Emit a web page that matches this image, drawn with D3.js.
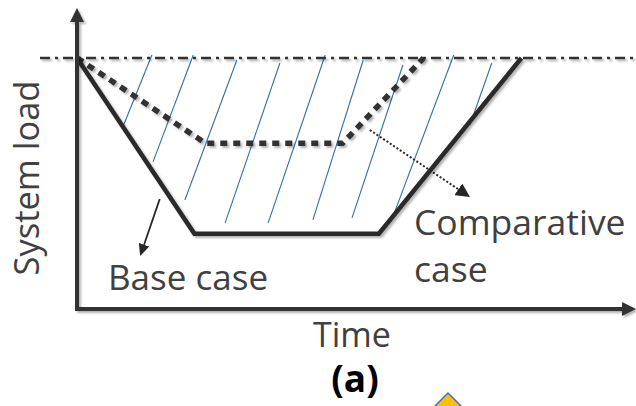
<!DOCTYPE html>
<html>
<head>
<meta charset="utf-8">
<script src="https://cdn.jsdelivr.net/npm/d3@7"></script>
<style>
  body { margin: 0; background: #fff; }
  text { font-family: "Open Sans", sans-serif; }
</style>
</head>
<body>
<div id="chart"></div>
<script>
// time and load are both in % (load 100 = full load level)
const baseTime = [0, 21, 54, 79.5];
const baseLoad = [100, 30, 30, 100];
const compTime = [0, 23, 47.5, 62];
const compLoad = [100, 66, 66, 100];
const fullLoad = 100;

// hand drawn hatch strokes, top end and bottom end
const hatchTopTime = [13.4, 20.8, 28.6, 36.3, 44.4, 51.2, 58.3, 67.4, 74.2];
const hatchTopLoad = [101.2, 101.2, 99.2, 98, 101.2, 99.2, 97.2, 101.2, 98];
const hatchBotTime = [8.2, 13.6, 19.3, 26.5, 34.2, 42.2, 49.2, 56.5, 70.3];
const hatchBotLoad = [72.5, 58.6, 43.4, 34.3, 34.3, 35.5, 36.3, 36.7, 73.3];

// pointer arrows: [fromTime, fromLoad, toTime, toLoad]
const basePointer = [14.8, 43.8, 11.3, 21.1];
const compPointer = [52.4, 71.3, 70.3, 44.6];

const width = 636, height = 406;

let svg = d3.select('#chart')
            .append('svg')
            .attr('width', width)
            .attr('height', height);

let x = d3.scaleLinear().domain([0, 100]).range([77, 636]);
let y = d3.scaleLinear().domain([0, 100]).range([309, 58]);

//defs: shadow + arrow heads
let defs = svg.append('defs');
let f = defs.append('filter').attr('id', 'shadow')
            .attr('filterUnits', 'userSpaceOnUse')
            .attr('x', 0).attr('y', 0).attr('width', width).attr('height', height);
f.append('feDropShadow')
  .attr('dx', 2).attr('dy', 2)
  .attr('stdDeviation', 1.3)
  .attr('flood-color', '#000')
  .attr('flood-opacity', 0.3);

function marker(id, len, half, col) {
  defs.append('marker')
      .attr('id', id)
      .attr('markerUnits', 'userSpaceOnUse')
      .attr('viewBox', `0 ${-half} ${len} ${half * 2}`)
      .attr('markerWidth', len)
      .attr('markerHeight', half * 2)
      .attr('refX', 0).attr('refY', 0)
      .attr('orient', 'auto-start-reverse')
    .append('path')
      .attr('d', `M0,${-half}L${len},0L0,${half}Z`)
      .attr('fill', col);
}
marker('axisHead', 14, 7, '#303030');
marker('baseHead', 12, 5.5, '#262626');
marker('compHead', 14, 7, '#262626');

//hatching between the full load line and the base case
let hatch = d3.range(hatchTopTime.length);
svg.append('g')
   .selectAll('line')
   .data(hatch)
   .enter()
   .append('line')
   .attr('x1', i => x(hatchTopTime[i]))
   .attr('y1', i => y(hatchTopLoad[i]))
   .attr('x2', i => x(hatchBotTime[i]))
   .attr('y2', i => y(hatchBotLoad[i]))
   .attr('stroke', '#2f6fa5')
   .attr('stroke-width', 1.1);

//full load reference line (dash dot)
svg.append('line')
   .attr('x1', 40).attr('x2', width)
   .attr('y1', y(fullLoad)).attr('y2', y(fullLoad))
   .attr('stroke', '#333')
   .attr('stroke-width', 2.4)
   .attr('stroke-dasharray', '10,5,3,5')
   .attr('filter', 'url(#shadow)');

let lineGen = d3.line().x(d => x(d[0])).y(d => y(d[1]));

//comparative case (dotted)
svg.append('path')
   .attr('d', lineGen(compTime.map((t, i) => [t, compLoad[i]])))
   .attr('fill', 'none')
   .attr('stroke', '#303030')
   .attr('stroke-width', 5.5)
   .attr('stroke-dasharray', '7,6')
   .attr('filter', 'url(#shadow)');

//base case (solid)
svg.append('path')
   .attr('d', lineGen(baseTime.map((t, i) => [t, baseLoad[i]])))
   .attr('fill', 'none')
   .attr('stroke', '#2b2b2b')
   .attr('stroke-width', 4.5)
   .attr('stroke-linejoin', 'miter')
   .attr('filter', 'url(#shadow)');

//shorten a pointer so the head ends on the tip
function pointer(p, head, dash, id) {
  let x1 = x(p[0]), y1 = y(p[1]), x2 = x(p[2]), y2 = y(p[3]);
  let len = Math.hypot(x2 - x1, y2 - y1);
  let k = (len - head) / len;
  svg.append('line')
     .attr('x1', x1).attr('y1', y1)
     .attr('x2', x1 + (x2 - x1) * k).attr('y2', y1 + (y2 - y1) * k)
     .attr('stroke', '#262626')
     .attr('stroke-width', dash ? 2 : 1.8)
     .attr('stroke-dasharray', dash ? '2,2' : null)
     .attr('marker-end', `url(#${id})`);
}
pointer(basePointer, 12, false, 'baseHead');
pointer(compPointer, 14, true, 'compHead');

//axes with arrow heads
let tipY = 8;
svg.append('path')
   .attr('d', `M${x(0)},${tipY + 14}L${x(0)},${y(0)}L${width - 14},${y(0)}`)
   .attr('fill', 'none')
   .attr('stroke', '#303030')
   .attr('stroke-width', 4)
   .attr('stroke-linejoin', 'miter')
   .attr('marker-start', 'url(#axisHead)')
   .attr('marker-end', 'url(#axisHead)')
   .attr('filter', 'url(#shadow)');

//labels
svg.append('text')
   .attr('transform', 'translate(39,178) rotate(-90)')
   .attr('text-anchor', 'middle')
   .attr('font-size', 34.5)
   .attr('fill', '#404040')
   .text('System load');

svg.append('text')
   .attr('x', 352).attr('y', 347)
   .attr('text-anchor', 'middle')
   .attr('font-size', 34)
   .attr('fill', '#404040')
   .text('Time');

svg.append('text')
   .attr('x', 108).attr('y', 290)
   .attr('font-size', 35)
   .attr('fill', '#404040')
   .text('Base case');

svg.append('text')
   .attr('x', 414).attr('y', 235)
   .attr('font-size', 35.5)
   .attr('fill', '#404040')
   .text('Comparative');

svg.append('text')
   .attr('x', 414).attr('y', 282)
   .attr('font-size', 35.5)
   .attr('fill', '#404040')
   .text('case');

svg.append('text')
   .attr('x', 355).attr('y', 392)
   .attr('text-anchor', 'middle')
   .attr('font-size', 37)
   .attr('font-weight', 'bold')
   .attr('fill', '#000')
   .text('(a)');

//corner of the next figure peeking in at the bottom
svg.append('path')
   .attr('d', 'M448,393L474,419L448,445L422,419Z')
   .attr('fill', '#ffc000')
   .attr('stroke', '#4472c4')
   .attr('stroke-width', 1.5);
</script>
</body>
</html>
